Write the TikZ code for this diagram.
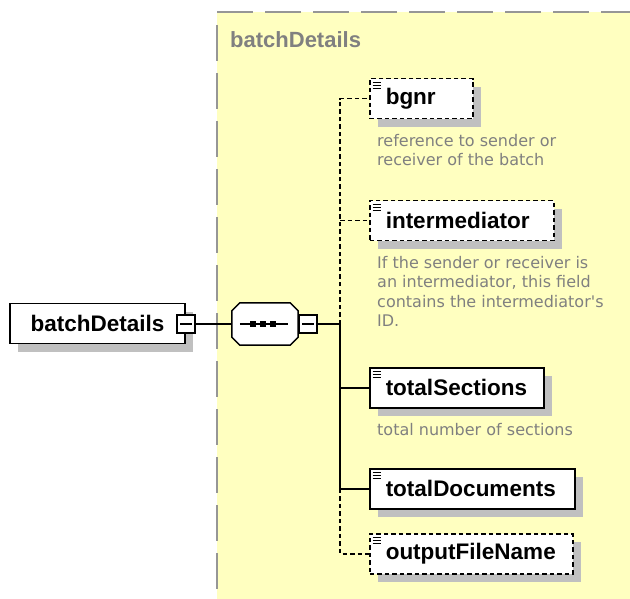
\documentclass[tikz,border=0pt]{standalone}
\usepackage{fontspec}
\setmainfont{Liberation Sans}
\newfontfamily\descfont{DejaVu Sans}
\usetikzlibrary{shadows}
\definecolor{bgyellow}{RGB}{255,255,192}
\definecolor{bordergray}{RGB}{150,150,150}
\definecolor{shadowgray}{RGB}{192,192,192}
\definecolor{descgray}{RGB}{128,128,128}
\begin{document}
\begin{tikzpicture}[x=1pt,y=-1pt,
 shad/.style={drop shadow={shadow xshift=8pt,shadow yshift=-8pt,fill=shadowgray,opacity=1}},
 elem/.style={draw=black,line width=1.5pt,fill=white,shad,minimum height=40pt,anchor=north west,
   inner xsep=16pt,inner ysep=0pt,align=left,font=\fontsize{22.5}{25}\selectfont\bfseries},
 opt/.style={dash pattern=on 4.5pt off 3pt},
 desc/.style={anchor=north west,inner sep=0pt,align=left,text=descgray,
   font=\descfont\fontsize{16}{19.5}\selectfont},
 conn/.style={line width=1.5pt},
 tog/.style={draw,line width=1.5pt,fill=white,minimum size=18pt,inner sep=0pt,
   path picture={\draw[line width=1.2pt] ([xshift=3pt]path picture bounding box.west) -- ([xshift=-3pt]path picture bounding box.east);}},
]
\useasboundingbox (0,0) rectangle (630,599);
% group background
\fill[bgyellow] (217,12) rectangle (640,610);
\draw[bordergray,line width=1.5pt,dash pattern=on 36pt off 12pt] (217,12) -- (640,12);
\draw[bordergray,line width=1.5pt,dash pattern=on 36pt off 12pt] (217,25) -- (217,610);
\node[anchor=west,inner sep=0pt,text=descgray,font=\fontsize{22}{25}\selectfont\bfseries] (title) at (230,40) {batchDetails};

% coordinates
\coordinate (hub) at (340,324);

% nodes
\node[elem,minimum width=175pt,anchor=center,inner xsep=0pt] (root) at (97.5,323.5) {batchDetails};
\node[tog] (rootm) at (186,324) {};

\node[minimum width=66pt,minimum height=42pt,inner sep=0pt] (seq) at (265,324) {};
\fill[shadowgray,shift={(7,7)}] ([xshift=8pt]seq.north west) -- ([xshift=-8pt]seq.north east) -- ([yshift=-8pt]seq.north east)
  -- ([yshift=8pt]seq.south east) -- ([xshift=-8pt]seq.south east) -- ([xshift=8pt]seq.south west)
  -- ([yshift=8pt]seq.south west) -- ([yshift=-8pt]seq.north west) -- cycle;
\draw[line width=1.5pt,fill=white] ([xshift=8pt]seq.north west) -- ([xshift=-8pt]seq.north east) -- ([yshift=-8pt]seq.north east)
  -- ([yshift=8pt]seq.south east) -- ([xshift=-8pt]seq.south east) -- ([xshift=8pt]seq.south west)
  -- ([yshift=8pt]seq.south west) -- ([yshift=-8pt]seq.north west) -- cycle;
\draw[line width=1.5pt] ([xshift=8pt]seq.west) -- ([xshift=-10pt]seq.east);
\foreach \dx in {-12,-2,8} \fill ([xshift=\dx pt]seq.center) ++(-3,-3) rectangle ++(6,6);
\node[tog] (seqm) at (308,324) {};

\node[elem,opt,minimum width=103pt,text width=71pt] (bgnr) at (369,78) {bgnr};
\node[elem,opt,minimum width=184pt,text width=152pt] (interm) at (369,200) {intermediator};
\node[elem,minimum width=174pt,text width=142pt] (totS) at (369,367) {totalSections};
\node[elem,minimum width=205pt,text width=173pt] (totD) at (369,468) {totalDocuments};
\node[elem,opt,minimum width=203pt,text width=171pt] (outF) at (369,533) {outputFileName};

\foreach \n in {bgnr,interm,totS,totD,outF}
  \foreach \dy in {4.5,7.5,10.5}
    \draw[line width=1pt] ([shift={(3.5,\dy)}]\n.north west) -- ++(8.5,0);

% descriptions
\node[desc] (d1) at (377,134) {reference to sender or\\receiver of the batch};
\node[desc] (d2) at (377,256) {If the sender or receiver is\\an intermediator, this field\\contains the intermediator's\\ID.};
\node[desc] (d3) at (377,423) {total number of sections};

% connectors
\draw[conn] (rootm.east) -- (seq.west);
\draw[conn] (seqm.east) -- (hub);
\draw[conn,opt] (hub) -- (hub|-bgnr.west) -- (bgnr.west);
\draw[conn,opt] (hub|-interm.west) -- (interm.west);
\draw[conn] (hub) -- (hub|-totD.west) -- (totD.west);
\draw[conn] (hub|-totS.west) -- (totS.west);
\draw[conn,opt] (hub|-totD.west) -- (hub|-outF.west) -- (outF.west);
\end{tikzpicture}
\end{document}
